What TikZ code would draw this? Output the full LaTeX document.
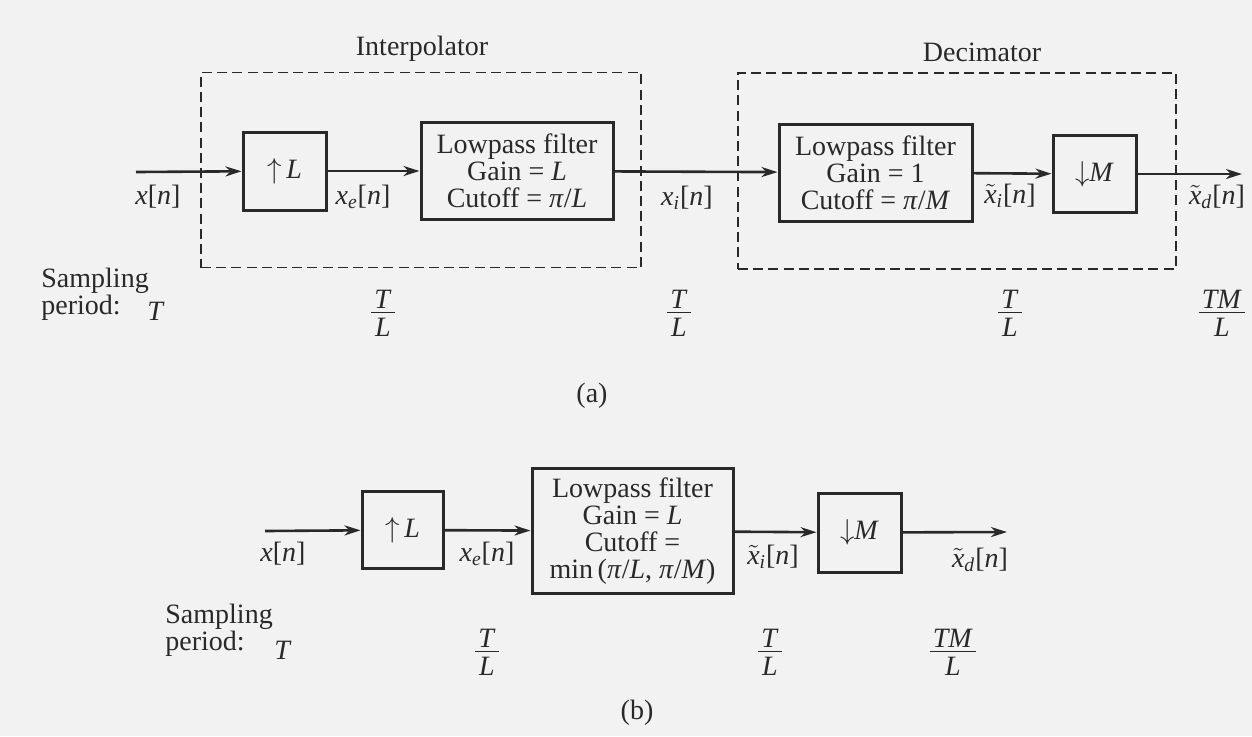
\documentclass[tikz,border=0pt]{standalone}
\usepackage{amsmath}
\usepackage{fontspec}
\setmainfont{Liberation Serif}
\usepackage{tikz}
\usetikzlibrary{arrows.meta,positioning}
\definecolor{ink}{gray}{0.16}
\definecolor{paper}{gray}{0.95}
\newcommand{\frT}[1]{\vbox{\halign{\hfil##\hfil\cr\kern1.5pt\textit{#1}\kern1.5pt\cr\noalign{\kern2pt\hrule height 0.5pt\kern2.2pt}\textit{L}\cr}}}
\newcommand{\tx}{$\tilde{\textit{x}}$}

\begin{document}
\begin{tikzpicture}[x=0.5pt, y=-0.5pt,
    every node/.style={text=ink, font=\fontsize{14}{13.6}\selectfont},
    rate/.style={rectangle, draw=ink, line width=1.5pt, minimum width=41.5pt, minimum height=39pt, inner sep=0pt},
    filter/.style={rectangle, draw=ink, line width=1.5pt, minimum width=96pt, minimum height=48.5pt, align=center, inner sep=0pt},
    group/.style={rectangle, draw=ink, line width=0.65pt, dash pattern=on 5pt off 2.6pt, inner sep=0pt},
    period/.style={anchor=west, align=left, inner sep=0pt, font=\fontsize{14}{11.5}\selectfont},
    line/.style={draw=ink, line width=1.3pt, -{Stealth[length=8pt, width=5pt, inset=2.5pt]}}]

    \fill [paper] (0,0) rectangle (1252,736);
    \useasboundingbox (0,0) rectangle (1252,736);

    % (a)
    \node [group, minimum width=220pt, minimum height=97.5pt] (interp) at (421,170) {};
    \node [group, minimum width=219pt, minimum height=98pt] (decim) at (957,171) {};
    \node (interplbl) at (422,49) {Interpolator};
    \node (decimlbl) at (982,52) {Decimator};

    \coordinate (xa) at (136,172);
    \node [rate] (upa) at (284.5,171) {$\uparrow$\,\textit{L}};
    \node [filter] (lpfa) at (517,171) {Lowpass filter\\Gain = \textit{L}\\Cutoff = \textit{π}/\textit{L}};
    \node [filter, minimum width=96.5pt] (lpfb) at (875.5,172.5) {Lowpass filter\\Gain = 1\\Cutoff = \textit{π}/\textit{M}};
    \node [rate, minimum height=38.5pt] (dna) at (1094.5,174) {$\downarrow$\textit{M}};
    \coordinate (ya) at (1242,174);

    \path [line] (xa) -- (upa);
    \path [line] (upa) -- (lpfa);
    \path [line] (lpfa) -- (lpfb);
    \path [line] (lpfb) -- (dna);
    \path [line] (dna) -- (ya);

    \node (sxa) at (158,197) {\textit{x}[\textit{n}]};
    \node (sxea) at (363,197) {\textit{x}\textsubscript{\textit{e}}[\textit{n}]};
    \node (sxia) at (687,198) {\textit{x}\textsubscript{\textit{i}}[\textit{n}]};
    \node (stxia) at (1010,196) {\tx\textsubscript{\textit{i}}[\textit{n}]};
    \node (stxda) at (1217,197) {\tx\textsubscript{\textit{d}}[\textit{n}]};

    \node [period] (sampa) at (41,294) {Sampling\\period:};
    \node (ta) at (156,311) {\textit{T}};
    \node (fa1) at (383,313) {\frT{T}};
    \node (fa2) at (679,313) {\frT{T}};
    \node (fa3) at (1010,313) {\frT{T}};
    \node (fa4) at (1222,313) {\frT{TM}};
    \node (capa) at (592,396) {(a)};

    % (b)
    \coordinate (xb) at (265,531);
    \node [rate, minimum width=40.5pt, minimum height=38.5pt] (upb) at (402.5,530) {$\uparrow$\,\textit{L}};
    \node [filter, minimum width=100.5pt, minimum height=62.5pt] (lpfc) at (632.5,531) {Lowpass filter\\Gain = \textit{L}\\Cutoff =\\min\,(\textit{π}/\textit{L}, \textit{π}/\textit{M})};
    \node [rate, minimum height=39.5pt] (dnb) at (859.5,532.5) {$\downarrow$\textit{M}};
    \coordinate (yb) at (1007,532);

    \path [line] (xb) -- (upb);
    \path [line] (upb) -- (lpfc);
    \path [line] (lpfc) -- (dnb);
    \path [line] (dnb) -- (yb);

    \node (sxb) at (283,554) {\textit{x}[\textit{n}]};
    \node (sxeb) at (487,554) {\textit{x}\textsubscript{\textit{e}}[\textit{n}]};
    \node (stxib) at (773,557) {\tx\textsubscript{\textit{i}}[\textit{n}]};
    \node (stxdb) at (980,560) {\tx\textsubscript{\textit{d}}[\textit{n}]};

    \node [period] (sampb) at (165,630) {Sampling\\period:};
    \node (tb) at (283,650) {\textit{T}};
    \node (fb1) at (487,652) {\frT{T}};
    \node (fb2) at (770,652) {\frT{T}};
    \node (fb3) at (953,652) {\frT{TM}};
    \node (capb) at (637,713) {(b)};
\end{tikzpicture}
\end{document}
